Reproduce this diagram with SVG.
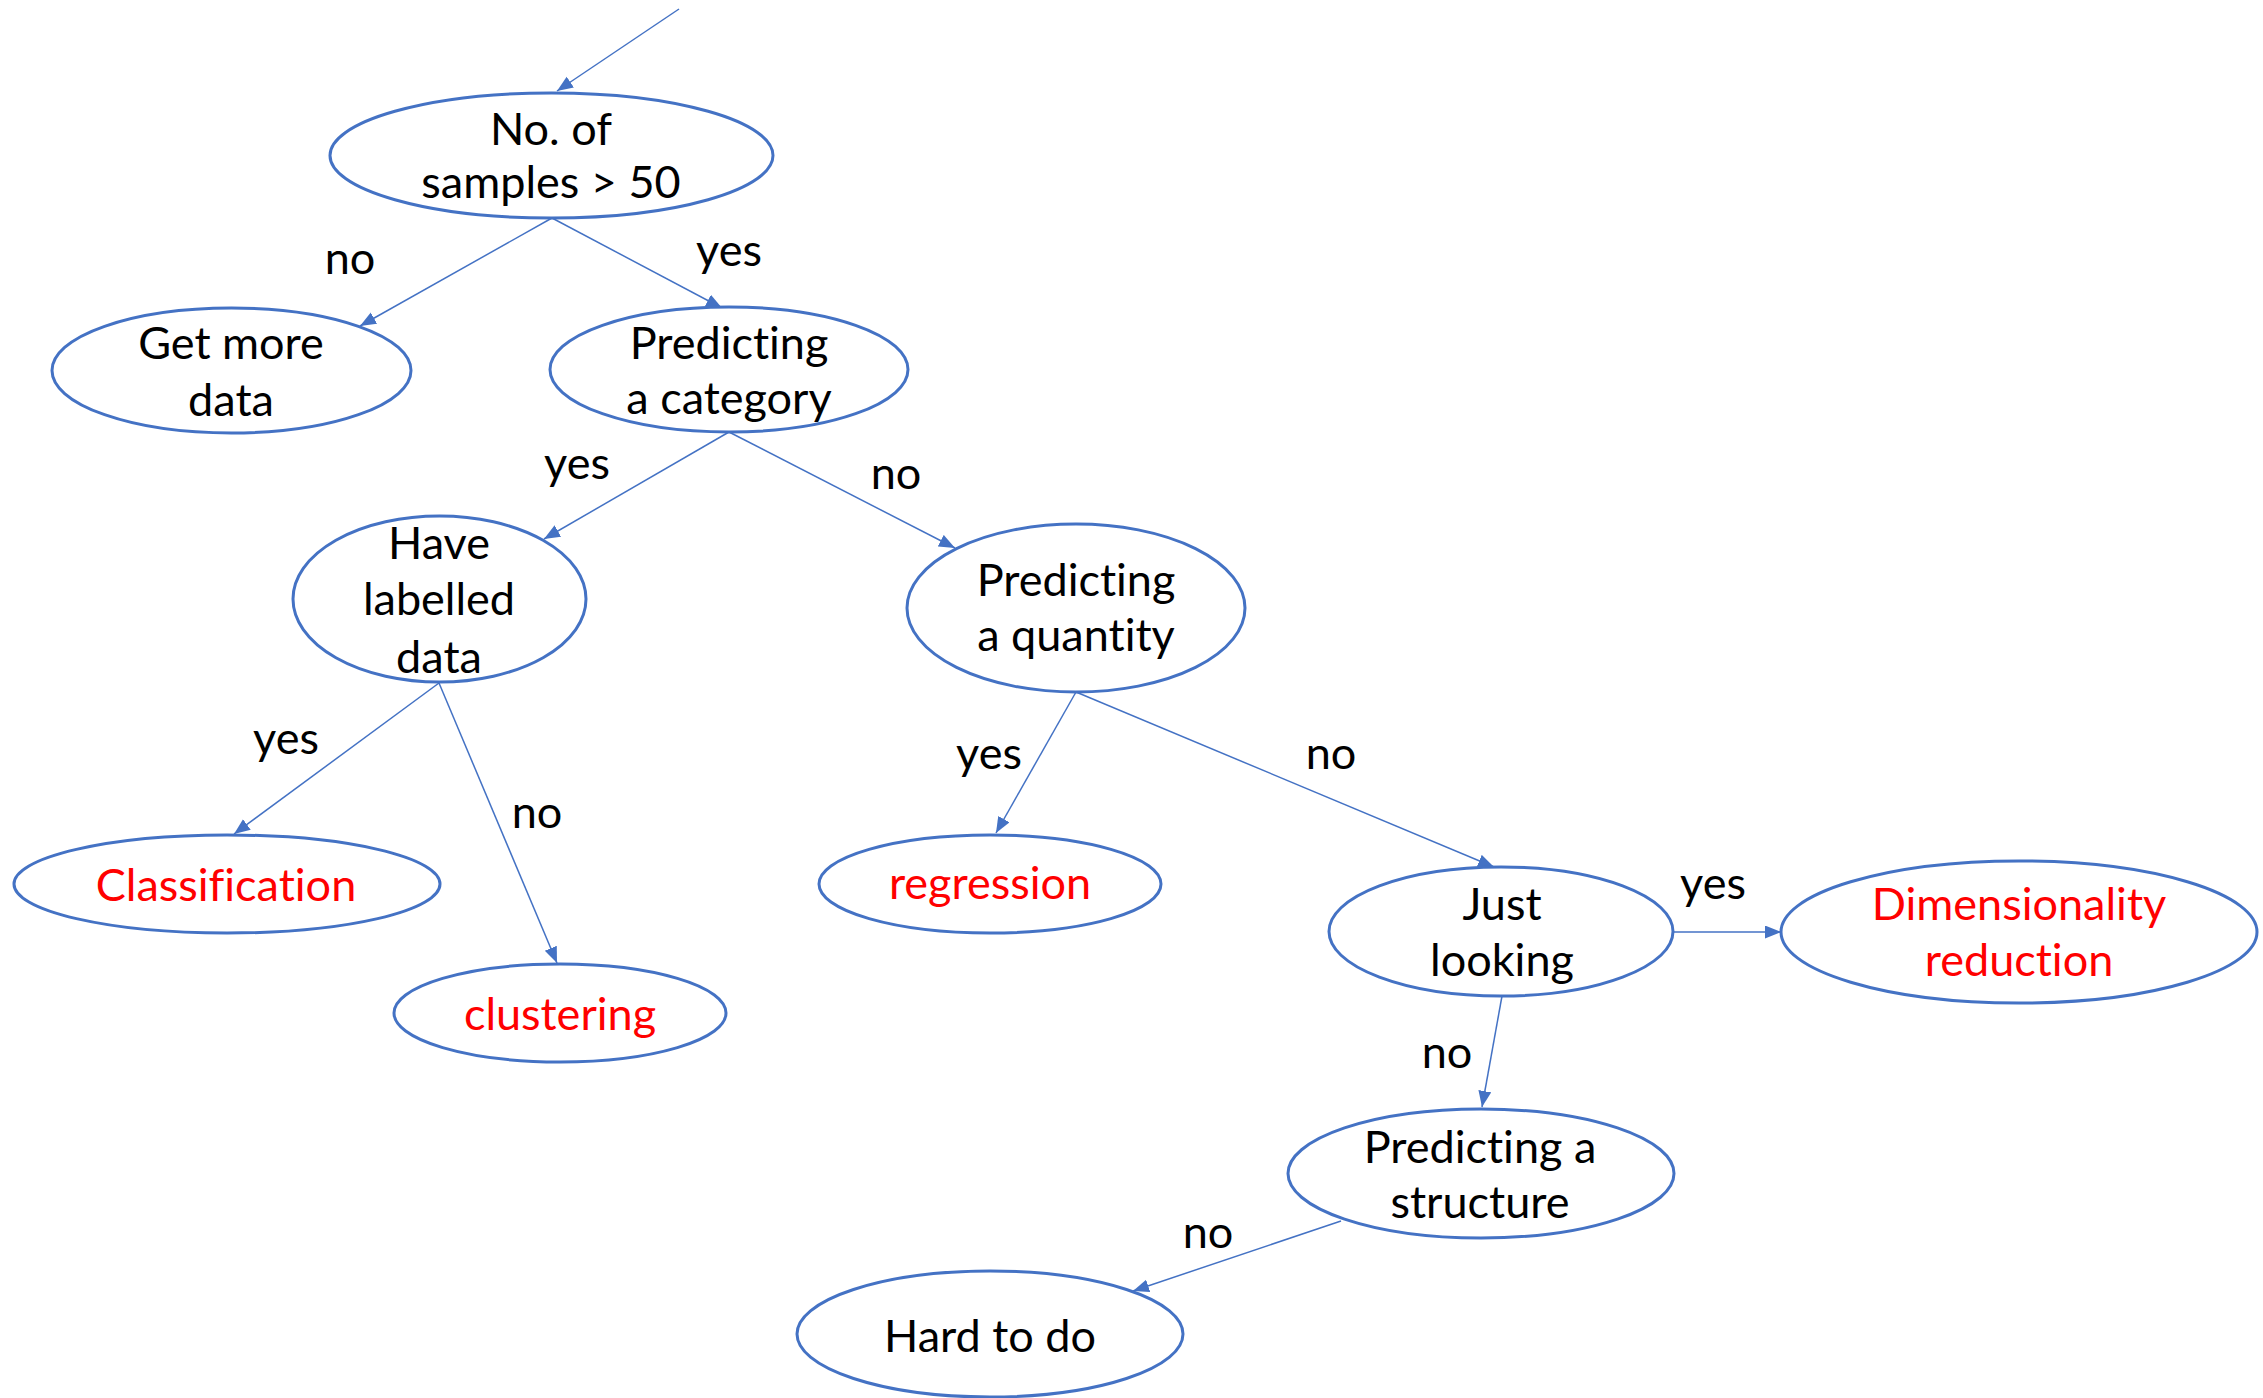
<svg xmlns="http://www.w3.org/2000/svg" width="2263" height="1398" viewBox="0 0 2263 1398">
  <defs>
    <marker id="arrow" markerUnits="userSpaceOnUse" markerWidth="18" markerHeight="14" refX="16" refY="6.5" orient="auto">
      <path d="M0,0 L16,6.5 L0,13 z" fill="#4472C4"/>
    </marker>
    <style>
      .node ellipse { fill: #ffffff; stroke: #4472C4; stroke-width: 3; }
      .node text, .lbl { font-family: Lato, "Open Sans", "Liberation Sans", sans-serif; font-size: 45px; text-anchor: middle; font-variant-ligatures: none; }
      .node text { fill: #000000; }
      .node.leaf text { fill: #FF0000; }
      .lbl { fill: #000000; }
      #connectors line { stroke: #4472C4; stroke-width: 1.5; marker-end: url(#arrow); }
    </style>
  </defs>
  <rect width="2263" height="1398" fill="#ffffff"/>

  <!-- connectors -->
  <g id="connectors">
    <line x1="679" y1="9" x2="557" y2="91"/>
    <line x1="552" y1="218" x2="360" y2="326"/>
    <line x1="552" y1="218" x2="722" y2="308"/>
    <line x1="729" y1="432" x2="544" y2="539"/>
    <line x1="729" y1="432" x2="955" y2="548"/>
    <line x1="439" y1="683" x2="234" y2="834"/>
    <line x1="439" y1="683" x2="557" y2="963"/>
    <line x1="1076" y1="692" x2="996" y2="833"/>
    <line x1="1076" y1="692" x2="1494" y2="867"/>
    <line x1="1673" y1="932" x2="1781" y2="932"/>
    <line x1="1502" y1="996" x2="1482" y2="1107"/>
    <line x1="1341" y1="1221" x2="1133" y2="1291"/>
  </g>

  <!-- branch labels -->
  <g id="labels">
    <text class="lbl" x="350" y="274">no</text>
    <text class="lbl" x="729" y="266">yes</text>
    <text class="lbl" x="577" y="479">yes</text>
    <text class="lbl" x="896" y="489">no</text>
    <text class="lbl" x="286" y="754">yes</text>
    <text class="lbl" x="537" y="828">no</text>
    <text class="lbl" x="989" y="769">yes</text>
    <text class="lbl" x="1331" y="769">no</text>
    <text class="lbl" x="1713" y="899">yes</text>
    <text class="lbl" x="1447" y="1068">no</text>
    <text class="lbl" x="1208" y="1248">no</text>
  </g>

  <!-- decision nodes -->
  <g id="n-samples" class="node">
    <ellipse cx="551.5" cy="155.5" rx="221.5" ry="62.5"/>
    <text x="551" y="145">No. of</text>
    <text x="551" y="198">samples &gt; 50</text>
  </g>
  <g id="n-more-data" class="node">
    <ellipse cx="231.5" cy="370.5" rx="179.5" ry="62.5"/>
    <text x="231" y="359">Get more</text>
    <text x="231" y="416">data</text>
  </g>
  <g id="n-category" class="node">
    <ellipse cx="729" cy="369.5" rx="179" ry="62.5"/>
    <text x="729" y="359">Predicting</text>
    <text x="729" y="414">a category</text>
  </g>
  <g id="n-labelled" class="node">
    <ellipse cx="439.5" cy="599" rx="146.5" ry="83"/>
    <text x="439" y="559">Have</text>
    <text x="439" y="615">labelled</text>
    <text x="439" y="673">data</text>
  </g>
  <g id="n-quantity" class="node">
    <ellipse cx="1076" cy="608" rx="169" ry="84"/>
    <text x="1076" y="596">Predicting</text>
    <text x="1076" y="651">a quantity</text>
  </g>
  <g id="n-just-looking" class="node">
    <ellipse cx="1501" cy="931.5" rx="172" ry="64.5"/>
    <text x="1502" y="920">Just</text>
    <text x="1502" y="976">looking</text>
  </g>
  <g id="n-structure" class="node">
    <ellipse cx="1481" cy="1173.5" rx="193" ry="64.5"/>
    <text x="1480" y="1163">Predicting a</text>
    <text x="1480" y="1218">structure</text>
  </g>
  <g id="n-hard" class="node">
    <ellipse cx="990" cy="1334" rx="193" ry="63"/>
    <text x="990" y="1352">Hard to do</text>
  </g>

  <!-- outcome nodes -->
  <g id="n-classification" class="node leaf">
    <ellipse cx="227" cy="884" rx="213" ry="49"/>
    <text x="226" y="901">Classification</text>
  </g>
  <g id="n-clustering" class="node leaf">
    <ellipse cx="560" cy="1013" rx="166" ry="49"/>
    <text x="560" y="1030">clustering</text>
  </g>
  <g id="n-regression" class="node leaf">
    <ellipse cx="990" cy="884" rx="171" ry="49"/>
    <text x="990" y="899">regression</text>
  </g>
  <g id="n-dimensionality" class="node leaf">
    <ellipse cx="2019" cy="932" rx="238" ry="71"/>
    <text x="2019" y="920">Dimensionality</text>
    <text x="2019" y="976">reduction</text>
  </g>
</svg>
